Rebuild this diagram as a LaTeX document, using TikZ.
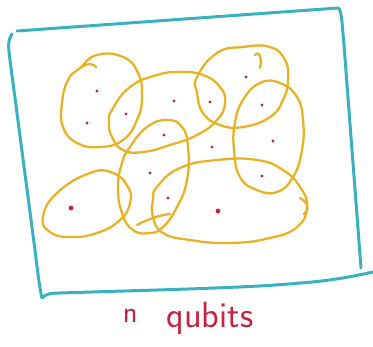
\documentclass[tikz,border=0pt]{standalone}
\definecolor{boxteal}{RGB}{56,178,192}
\definecolor{setgold}{RGB}{232,178,36}
\definecolor{dotred}{RGB}{196,36,64}

\begin{document}
\begin{tikzpicture}[x=0.02cm,y=-0.02cm,line cap=round,line join=round,
  frame/.style={draw=boxteal,line width=1.7pt},
  blob/.style={draw=setgold,line width=1.3pt},
  every node/.style={font=\huge\sffamily}]
\useasboundingbox (0,0) rectangle (373,346);
% frame, drawn as four loose strokes
\draw[frame] (17,31) -- (338,8);
\draw[frame] (12,34) .. controls (8,40) and (8,45) .. (10,60) -- (35,250) .. controls (38,275) and (40,290) .. (42,298);
\draw[frame] (338,8) .. controls (342,10) and (342,25) .. (344,45) -- (361,268);
\draw[frame] (42,298) .. controls (46,294) and (50,293) .. (60,293) .. controls (150,290) and (250,288) .. (300,283) .. controls (330,281) and (355,276) .. (373,272);
% sets
\draw[blob] plot[smooth cycle,tension=.8] coordinates {(80,68) (97,55) (123,57) (138,73) (142,97) (137,120) (123,140) (100,147) (77,143) (63,127) (62,103) (68,80)};
\draw[blob] plot[smooth cycle,tension=.8] coordinates {(112,110) (130,87) (157,75) (180,72) (203,75) (220,87) (225,103) (217,120) (197,135) (170,145) (143,152) (123,150) (112,137) (109,123)};
\draw[blob] plot[smooth cycle,tension=.8] coordinates {(197,77) (217,53) (243,47) (270,47) (285,60) (288,80) (283,100) (270,117) (243,127) (220,125) (203,113) (197,93)};
\draw[blob] plot[smooth cycle,tension=.8] coordinates {(243,100) (260,83) (280,83) (297,97) (303,120) (302,150) (293,177) (277,192) (257,190) (240,177) (234,150) (235,123)};
\draw[blob] plot[smooth cycle,tension=.8] coordinates {(130,147) (147,127) (167,120) (182,127) (188,147) (187,180) (177,207) (163,227) (150,233) (133,230) (122,213) (118,187) (122,163)};
\draw[blob] plot[smooth cycle,tension=.8] coordinates {(43,217) (57,193) (90,173) (113,173) (128,187) (130,203) (120,220) (97,233) (70,237) (50,232)};
\draw[blob] plot[smooth cycle,tension=.8] coordinates {(157,187) (180,168) (217,160) (257,160) (283,170) (300,187) (307,207) (297,227) (270,238) (230,243) (190,240) (163,233) (153,217) (153,200)};
% loose stroke ends
\draw[blob] (80,68) .. controls (88,62) and (94,64) .. (96,67);
\draw[blob] (255,55) .. controls (260,50) and (262,60) .. (260,68);
\draw[blob] (137,225) .. controls (148,219) and (160,215) .. (170,214);
\draw[blob] (300,198) .. controls (310,204) and (309,210) .. (304,214);
% qubits
\foreach \px/\py [count=\k] in {97/91,87/123,126/114,174/101,210/102,246/77,262/105,273/141,262/176,164/135,212/147,150/173,168/198,218/211,71/208}
  \coordinate (q\k) at (\px,\py);
\foreach \k in {1,...,15}
  \fill[dotred] (q\k) circle (1.6);
\fill[dotred] (q14) circle (2.4);
\fill[dotred] (q15) circle (2.4);
\node[text=dotred] (lbl) at (188,318) {\raisebox{0.12em}{\LARGE n}\hspace{0.8em}qubits};
\end{tikzpicture}
\end{document}
